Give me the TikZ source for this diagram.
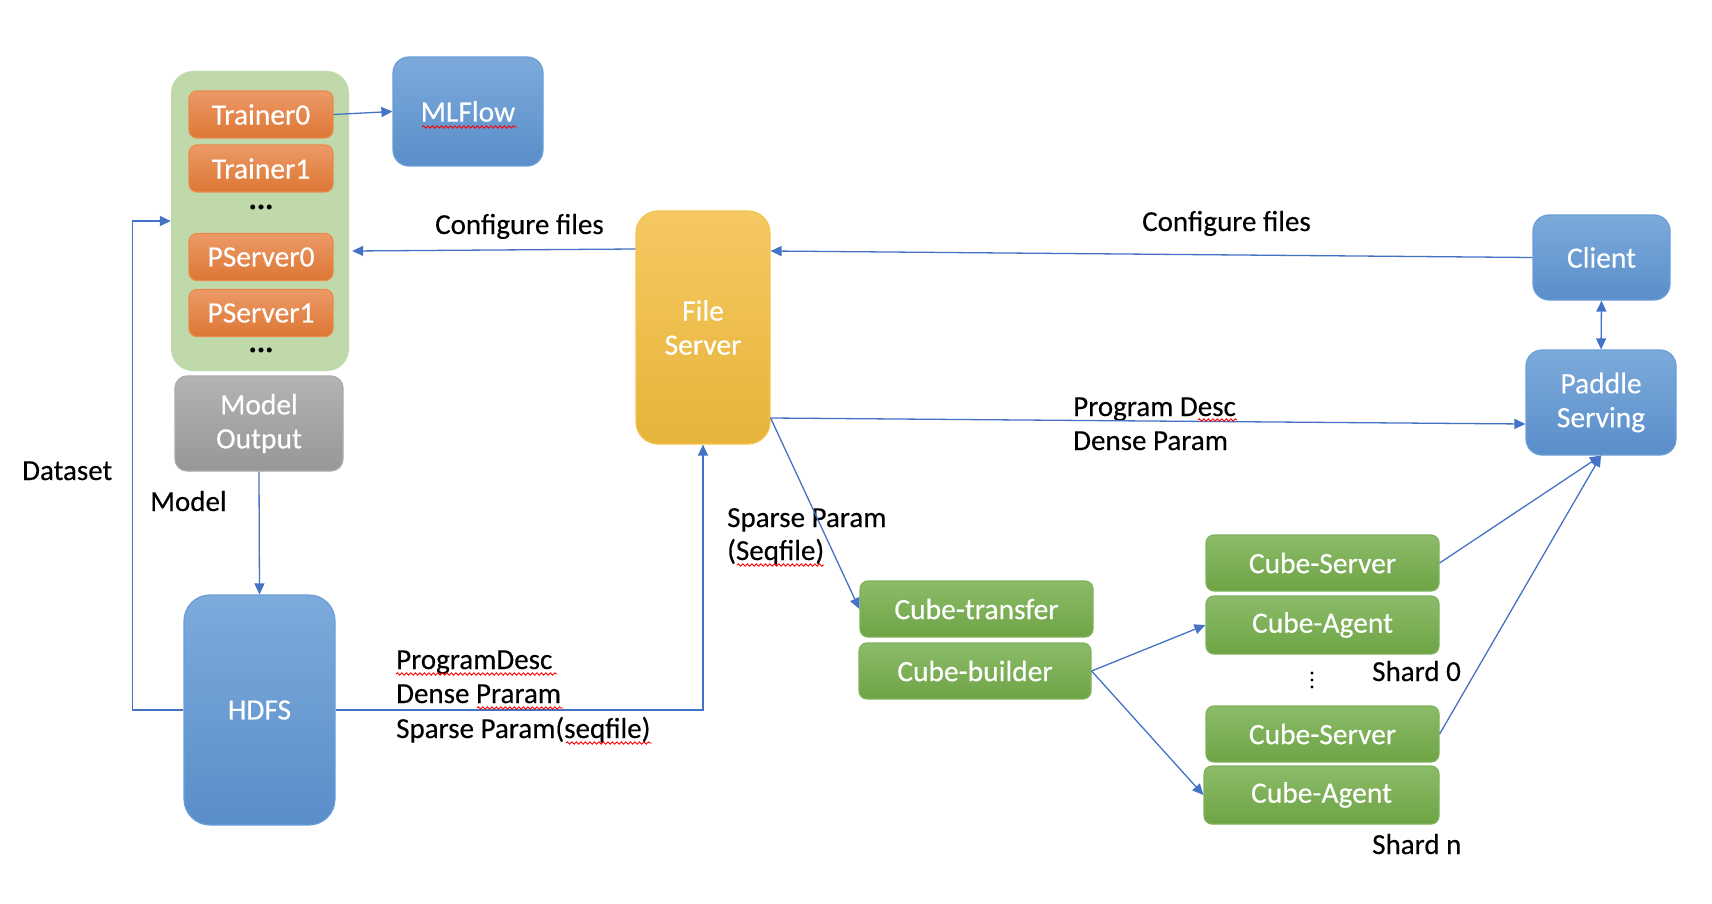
\documentclass[tikz,border=0pt]{standalone}
\usepackage{fontspec}
\setmainfont{Carlito}[FakeBold=0.3]
\usetikzlibrary{arrows.meta,calc,decorations.pathmorphing}
\definecolor{orT}{HTML}{EC9A67}
\definecolor{orB}{HTML}{DD7634}
\definecolor{orD}{HTML}{E98A4E}
\definecolor{grpG}{HTML}{C0D9AA}
\definecolor{blT}{HTML}{7CAADB}
\definecolor{blB}{HTML}{5A8ECA}
\definecolor{blD}{HTML}{6A9ED6}
\definecolor{goT}{HTML}{F6C862}
\definecolor{goB}{HTML}{E6B43A}
\definecolor{goD}{HTML}{F5C34F}
\definecolor{grT}{HTML}{B3B3B3}
\definecolor{grB}{HTML}{979797}
\definecolor{grD}{HTML}{ABABAB}
\definecolor{gnT}{HTML}{8CBB69}
\definecolor{gnB}{HTML}{6EA445}
\definecolor{gnD}{HTML}{7FB25A}
\definecolor{link}{HTML}{4472C4}
\begin{document}
\begin{tikzpicture}[x=1pt,y=-1pt,
  box/.style={draw, line width=1.2pt, text=white, align=center, inner sep=0pt,
    font=\fontsize{29.5}{34}\selectfont},
  orangebox/.style={box, rounded corners=8pt, top color=orT, bottom color=orB, draw=orD,
    minimum width=144pt, minimum height=47pt},
  bluebox/.style={box, rounded corners=16pt, top color=blT, bottom color=blB, draw=blD},
  goldbox/.style={box, rounded corners=22pt, top color=goT, bottom color=goB, draw=goD},
  graybox/.style={box, rounded corners=12pt, top color=grT, bottom color=grB, draw=grD},
  cubebox/.style={box, rounded corners=8pt, top color=gnT, bottom color=gnB, draw=gnD,
    minimum width=233pt, minimum height=56pt},
  arr/.style={draw=link, line width=1.3pt, -{Triangle[length=11pt,width=10pt]}},
  darr/.style={draw=link, line width=1.3pt, {Triangle[length=11pt,width=10pt]}-{Triangle[length=11pt,width=10pt]}},
  lbl/.style={anchor=base west, inner sep=0pt, text=black, font=\fontsize{29}{34}\selectfont},
  dots/.style={inner sep=0pt, text=black, font=\fontsize{31}{34}\selectfont\bfseries},
  squig/.style={draw=red, line width=0.9pt, decorate, decoration={snake, amplitude=1.2pt, segment length=4.5pt}}
]
\useasboundingbox (0,0) rectangle (1712,904);

% left group
\node[rounded corners=22pt, fill=grpG, minimum width=178pt, minimum height=300pt, inner sep=0pt] (grp) at (260,221) {};
\node[orangebox] (t0) at (261,114.5) {Trainer0};
\node[orangebox] (t1) at (261,168.5) {Trainer1};
\node[dots] (d1) at (261,207) {...};
\node[orangebox] (p0) at (261,257) {PServer0};
\node[orangebox] (p1) at (261,313) {PServer1};
\node[dots] (d2) at (261,350) {...};
\node[graybox, minimum width=168pt, minimum height=95pt] (mo) at (259,423.5) {Model\\Output};
\node[bluebox, minimum width=150pt, minimum height=109pt] (mlf) at (468,111.5) {MLFlow};
\node[bluebox, rounded corners=26pt, minimum width=151pt, minimum height=230pt] (hdfs) at (259.5,710) {HDFS};
\node[goldbox, minimum width=134pt, minimum height=233pt] (fs) at (703,327.5) {File\\Server};
\node[bluebox, minimum width=137pt, minimum height=85pt] (cl) at (1601.5,257.5) {Client};
\node[bluebox, minimum width=150pt, minimum height=105pt] (ps) at (1601,402.5) {Paddle\\Serving};

% cube nodes
\node[cubebox] (ct) at (976.5,609) {Cube-transfer};
\node[cubebox, minimum width=232pt] (cb) at (975,671) {Cube-builder};
\node[cubebox] (cs1) at (1322.5,563) {Cube-Server};
\node[cubebox, minimum height=58pt] (ca1) at (1322.5,625) {Cube-Agent};
\node[cubebox] (csn) at (1322.5,734) {Cube-Server};
\node[cubebox, minimum width=235pt, minimum height=58pt] (can) at (1321.5,795) {Cube-Agent};

% labels
\node[lbl] (lcf1) at (435,234) {Configure files};
\node[lbl] (lcf2) at (1142,231) {Configure files};
\node[lbl] (lpd) at (1073,416) {Program Desc};
\node[lbl] (ldp) at (1073,450) {Dense Param};
\node[lbl] (lsp) at (727,527) {Sparse Param};
\node[lbl] (lsq) at (727,560) {(Seqfile)};
\node[lbl] (lds) at (22,480) {Dataset};
\node[lbl] (lmd) at (150,511) {Model};
\node[lbl] (lpd2) at (396,669) {ProgramDesc};
\node[lbl] (ldp2) at (396,703) {Dense Praram};
\node[lbl] (lsp2) at (396,738) {Sparse Param(seqfile)};
\node[lbl] (ls0) at (1372,681) {Shard 0};
\node[lbl] (lsn) at (1372,854) {Shard n};
\fill[black] (1312,673) circle (1.7) (1312,680) circle (1.7) (1312,687) circle (1.7);

% connectors
\draw[arr] (t0.east) -- (mlf.west);
\draw[arr] ($(fs.west)+(0,-78.5)$) -- ($(grp.east)+(3,30)$);
\draw[arr] (cl.west) -- ($(fs.east)+(0,-76.5)$);
\draw[darr] (cl.south) -- (ps.north);
\draw[arr] ($(fs.east)+(0,90.5)$) -- ($(ps.west)+(0,21.5)$);
\draw[arr] ($(fs.east)+(0,90.5)$) -- (ct.west);
\draw[arr] (cb.east) -- (ca1.west);
\draw[arr] (cb.east) -- (can.west);
\draw[arr] (cs1.east) -- (ps.south);
\draw[arr] (csn.east) -- (ps.south);
\draw[arr] (mo.south) -- (hdfs.north);
\draw[arr] (hdfs.west) -- ++(-51,0) |- (grp.west);
\draw[arr] (hdfs.east) -| (fs.south);

% spell-check squiggles
\draw[squig] (422,127) -- (517,127);
\draw[squig] (1198,420) -- (1237,420);
\draw[squig] (737,565) -- (824,565);
\draw[squig] (396,674) -- (557,674);
\draw[squig] (477,708) -- (563,708);
\draw[squig] (566,743) -- (652,743);
\end{tikzpicture}
\end{document}
